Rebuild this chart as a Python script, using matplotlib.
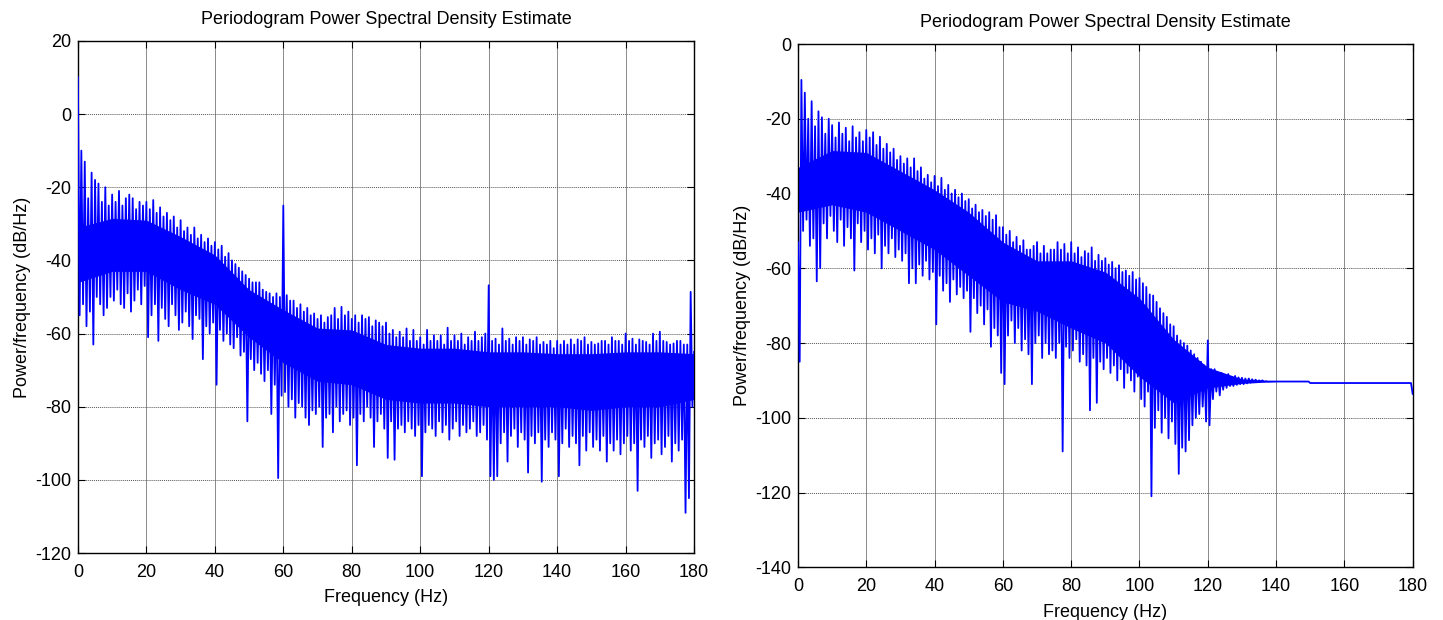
import numpy as np
import matplotlib
matplotlib.use("Agg")
import matplotlib.pyplot as plt

plt.rcParams["font.family"] = ["Liberation Sans", "DejaVu Sans"]
plt.rcParams["axes.unicode_minus"] = False

TITLE = "Periodogram Power Spectral Density Estimate"
XLABEL = "Frequency (Hz)"
YLABEL = "Power/frequency (dB/Hz)"
XTICKS = [0, 20, 40, 60, 80, 100, 120, 140, 160, 180]
YTICKS_L = [-120, -100, -80, -60, -40, -20, 0, 20]
YTICKS_R = [-140, -120, -100, -80, -60, -40, -20, 0]

# left panel: per-Hz peaks (at f) and troughs (at f + 0.5), dB/Hz
PEAK_L = [
  10, -10, -13, -23, -16, -18, -19, -24, -20, -25,
  -22, -24, -21, -25, -23, -22, -23, -26, -24, -25,
  -24, -26, -23.5, -27, -25.5, -28, -27, -29, -28, -31,
  -29, -32, -31, -33, -31, -34, -33, -35, -34, -36,
  -35, -37, -36, -39, -38, -40, -41, -42, -43, -44,
  -45, -46, -46, -46, -48, -48.6, -49, -50, -49, -50,
  -25, -49.5, -51, -51, -53, -52, -54, -53, -55, -54.5,
  -56, -55, -57, -55.5, -55, -53, -56, -52.7, -55, -54,
  -56, -55, -57, -55, -56, -55.5, -58, -56.4, -57, -58,
  -57, -60, -59, -61, -59.5, -61, -58.6, -62, -59, -62,
  -61, -63, -59, -62, -60.5, -62, -60.5, -63, -58.4, -62,
  -60.5, -62, -60, -63, -61, -62, -59.5, -62, -61, -60,
  -46.8, -62, -61.4, -63, -58.6, -62, -61.4, -63, -61, -62,
  -61, -63, -61.6, -62, -61, -63, -62.3, -63, -62, -64,
  -62, -63, -62, -63, -61.6, -63, -61.6, -62, -61, -63,
  -62.3, -63, -62.7, -62, -62, -63, -61, -62, -62, -63,
  -60, -62, -61.4, -63, -61.6, -62, -62.3, -63, -60, -62,
  -59.5, -62, -62.3, -63, -62.7, -62, -62, -63, -63, -48.6,
]
TROUGH_L = [
  -55, -52, -58, -54, -63, -50, -52, -55, -53, -50,
  -51, -48, -52, -53, -49, -54, -51, -48, -52, -47,
  -61, -55, -52, -62, -53, -56, -58, -52, -55, -59,
  -57, -54, -58, -61.5, -55, -56, -67, -58, -60, -57,
  -74, -59, -62, -60, -63, -64, -61, -66, -65, -84,
  -67, -70, -68, -71, -73, -70, -82, -74, -99.5, -77,
  -76, -80, -78, -83, -79, -80, -83, -85, -81, -82,
  -80, -91, -83, -82, -87, -80, -84, -82, -81, -85,
  -83, -96, -82, -84, -80, -83, -91, -84, -82, -86,
  -94, -84, -94.5, -86, -85, -87, -84, -86, -88, -85,
  -99, -87, -85, -86, -88, -84, -87, -85, -89, -86,
  -84, -88, -85, -87, -86, -84, -88, -87, -85, -89,
  -99, -100, -99, -90, -87, -95, -88, -86, -91, -87,
  -89, -98, -88, -90, -87, -100.5, -89, -91, -87, -89,
  -99, -90, -86, -91, -88, -90, -96, -88, -92, -87,
  -91, -89, -92, -88, -95, -90, -92, -89, -93, -90,
  -88, -92, -90, -103, -89, -91, -88, -94, -90, -89,
  -93, -91, -88, -95, -90, -92, -89, -109, -105, -80,
]
END_L = -65

# right panel
PEAK_R = [
  -53, -9.6, -13, -20, -15.3, -22, -18, -19.6, -24, -20,
  -21.7, -25, -21, -24, -22.4, -26, -22, -25, -23.6, -26,
  -23, -25, -23.6, -27, -24.8, -28, -26.7, -29, -28, -31,
  -30, -32, -30.6, -33, -30.6, -34, -33, -36, -35, -37,
  -35.3, -38, -35.8, -39, -37.7, -40, -39, -41, -40, -42,
  -41.5, -44, -43, -45, -44.4, -46, -45, -47, -45.8, -49,
  -49, -51, -50, -53, -51.6, -54, -52.5, -55, -55, -54,
  -53, -56, -54, -56, -55, -55, -53, -55, -53.5, -56,
  -53, -56, -54.4, -57, -55.4, -56, -54.4, -58, -56.4, -58,
  -57.3, -59, -58.3, -60, -59.2, -61, -60.6, -62, -61, -63,
  -62.6, -64, -65, -67, -67.3, -69, -70.7, -72, -73, -75,
  -75.5, -78, -79.3, -80, -80.7, -82, -83, -84, -85, -86,
  -79.3, -87, -87, -88, -88, -88.5, -88.3, -89, -88.8, -89.2,
  -89.3, -89.5, -89.5, -89.7, -89.8, -90, -90, -90.2, -90.3, -90.3,
  -90.3, -90.3, -90.3, -90.3, -90.3, -90.3, -90.3, -90.3, -90.3, -90.3,
  -90.7, -90.7, -90.7, -90.7, -90.7, -90.7, -90.7, -90.7, -90.7, -90.7,
  -90.7, -90.7, -90.7, -90.7, -90.7, -90.7, -90.7, -90.7, -90.7, -90.7,
  -90.7, -90.7, -90.7, -90.7, -90.7, -90.7, -90.7, -90.7, -90.7, -90.7,
]
TROUGH_R = [
  -85, -50, -47, -54, -52, -63.5, -60, -48, -52, -46,
  -50, -53, -47, -54, -49, -52, -60.6, -48, -53, -50,
  -55, -52, -56, -51, -60, -54, -56, -52, -57, -55,
  -58, -56, -64, -60, -64, -59, -62, -58, -63, -61,
  -75, -62, -66, -64, -69, -63, -67, -65, -68, -66,
  -77, -68, -72, -70, -75, -71, -81, -76, -78, -88,
  -91, -78, -74, -80, -76, -82, -79, -83, -91, -80,
  -78, -84, -80, -83, -82, -84, -80, -109, -81, -84,
  -82, -79, -85, -83, -86, -98, -84, -96, -85, -87,
  -84, -88, -86, -90, -87, -92, -88, -90, -93, -89,
  -95, -97, -93, -121, -102.7, -98, -104, -100, -105.5, -101,
  -107, -115, -108, -109, -106, -102, -100, -99, -97, -101,
  -102, -95, -93, -94, -92.5, -92, -91.5, -91.5, -91.2, -91,
  -91, -90.8, -90.6, -90.5, -90.4, -90.3, -90.3, -90.3, -90.3, -90.3,
  -90.3, -90.3, -90.3, -90.3, -90.3, -90.3, -90.3, -90.3, -90.3, -90.3,
  -90.7, -90.7, -90.7, -90.7, -90.7, -90.7, -90.7, -90.7, -90.7, -90.7,
  -90.7, -90.7, -90.7, -90.7, -90.7, -90.7, -90.7, -90.7, -90.7, -90.7,
  -90.7, -90.7, -90.7, -90.7, -90.7, -90.7, -90.7, -90.7, -90.7, -90.7,
]
END_R = -93.6

# dense core of the spectrum, every 10 Hz
CORE_FREQ = [0, 10, 20, 30, 40, 50, 60, 70, 80, 90, 100, 110, 120, 130, 140, 150, 160, 170, 180]
CORE_HI_L = [-31, -28.5, -29, -33.5, -38.5, -48, -53.5, -58.5, -59, -63, -64, -64, -65, -65, -65.5, -65.5, -65, -65, -65.5]
CORE_LO_L = [-46, -43, -43, -48, -52, -61, -68, -73, -74, -78, -79, -79, -80, -80, -80, -81, -80, -80, -78]
CORE_HI_R = [-33, -28.5, -29, -34, -39, -45, -53, -58, -58, -61, -68, -79, -86.5, -89.6, -90.3, -90.7, -90.7, -90.7, -90.7]
CORE_LO_R = [-45, -43, -45, -50, -55, -62, -69, -71.5, -76, -80, -89, -96, -92, -90.8, -90.3, -90.7, -90.7, -90.7, -90.7]

BLUE = "#0000ff"


def _spectrum(peaks, troughs, end):
  n = len(peaks)
  f = np.empty(2 * n + 1)
  v = np.empty(2 * n + 1)
  f[0:-1:2] = np.arange(n)
  f[1:-1:2] = np.arange(n) + 0.5
  f[-1] = n
  v[0:-1:2] = peaks
  v[1:-1:2] = troughs
  v[-1] = end
  return f, v


def _panel(ax, peaks, troughs, end, core_hi, core_lo, ylim, yticks):
  ax.fill_between(CORE_FREQ, core_lo, core_hi, color=BLUE, linewidth=0, zorder=2)
  f, v = _spectrum(peaks, troughs, end)
  ax.plot(f, v, color=BLUE, linewidth=1.3, zorder=3)

  ax.set_xlim(0, 180)
  ax.set_ylim(*ylim)
  ax.set_xticks(XTICKS)
  ax.set_yticks(yticks)
  ax.tick_params(direction="in", top=True, right=True, length=5, width=0.8,
                 labelsize=13)
  ax.tick_params(axis="x", pad=8)
  ax.tick_params(axis="y", pad=5)
  ax.xaxis.grid(True, color="#8a8a8a", linestyle="-", linewidth=0.7)
  ax.yaxis.grid(True, color="#555555", linestyle=(0, (1, 1)), linewidth=0.7)
  ax.set_axisbelow(True)
  for s in ax.spines.values():
    s.set_linewidth(1.0)
  ax.set_title(TITLE, fontsize=13, pad=12)
  ax.set_xlabel(XLABEL, fontsize=13, labelpad=6)
  ax.set_ylabel(YLABEL, fontsize=13, labelpad=3)


fig = plt.figure(figsize=(14.43, 6.2), dpi=100)
ax_l = fig.add_axes([0.054, 0.108, 0.427, 0.826])
ax_r = fig.add_axes([0.553, 0.085, 0.426, 0.844])

_panel(ax_l, PEAK_L, TROUGH_L, END_L, CORE_HI_L, CORE_LO_L, (-120, 20), YTICKS_L)
_panel(ax_r, PEAK_R, TROUGH_R, END_R, CORE_HI_R, CORE_LO_R, (-140, 0), YTICKS_R)

fig.savefig("out.png", dpi=100, facecolor="white")
plt.close(fig)
